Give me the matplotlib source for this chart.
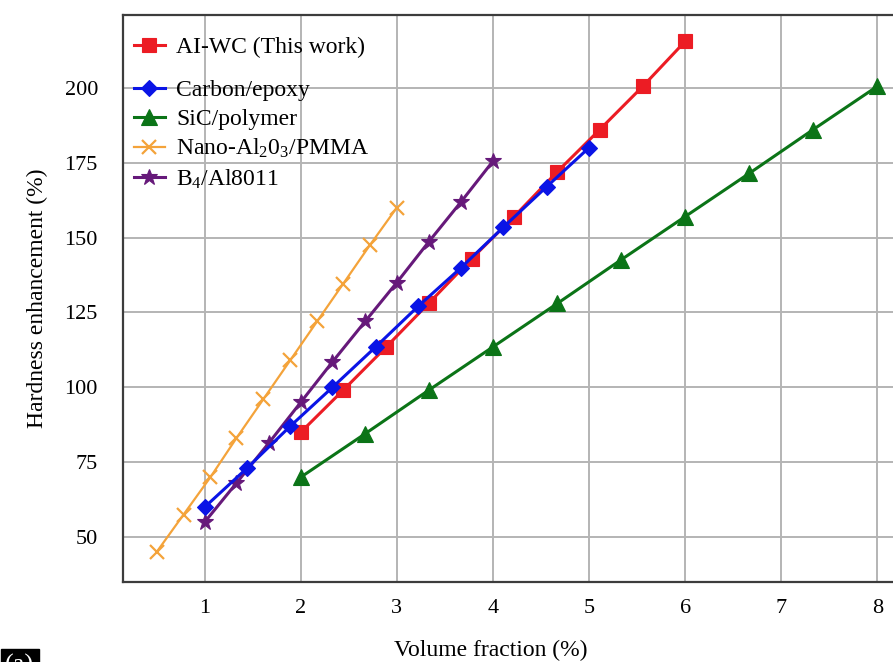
import matplotlib
matplotlib.use("Agg")
import matplotlib.pyplot as plt

plt.rcParams['font.family'] = ['Liberation Serif', 'DejaVu Serif']
plt.rcParams['mathtext.fontset'] = 'custom'
plt.rcParams['mathtext.rm'] = 'Liberation Serif'
plt.rcParams['mathtext.it'] = 'Liberation Serif'

# data
alwc_x = [2, 2.44, 2.89, 3.33, 3.78, 4.22, 4.67, 5.11, 5.56, 6]
alwc_y = [85, 99, 113.5, 128, 143, 157, 172, 186, 200.5, 215.5]

carbon_x = [1, 1.44, 1.89, 2.33, 2.78, 3.22, 3.67, 4.11, 4.56, 5]
carbon_y = [60, 73, 87, 100, 113.5, 127, 140, 153.5, 167, 180]

sic_x = [2, 2.67, 3.33, 4, 4.67, 5.33, 6, 6.67, 7.33, 8]
sic_y = [70, 84.5, 99, 113.5, 128, 142.5, 157, 171.5, 186, 200.5]

nano_x = [0.5, 0.78, 1.06, 1.33, 1.61, 1.89, 2.17, 2.44, 2.72, 3.0]
nano_y = [45, 57.5, 70, 83, 96, 109, 122, 134.5, 147.5, 160]

b4_x = [1, 1.33, 1.67, 2, 2.33, 2.67, 3, 3.33, 3.67, 4]
b4_y = [55, 68, 81.5, 95, 108.5, 122, 135, 148.5, 162, 175.5]

x_ticks = [1, 2, 3, 4, 5, 6, 7, 8]
y_ticks = [50, 75, 100, 125, 150, 175, 200]

c_red = '#ec1c24'
c_blue = '#0a14e6'
c_green = '#0b7417'
c_orange = '#f4a33a'
c_purple = '#66197a'

fig = plt.figure(figsize=(8.93, 6.62), dpi=100)
ax = fig.add_axes([0.1377, 0.1208, 0.877, 0.8565])

series = [
    (nano_x, nano_y, c_orange, 'x', 10, 1.6, 'Nano-Al$_2$0$_3$/PMMA'),
    (b4_x, b4_y, c_purple, '*', 12, 2.2, 'B$_4$/Al8011'),
    (sic_x, sic_y, c_green, '^', 11, 2.2, 'SiC/polymer'),
    (alwc_x, alwc_y, c_red, 's', 10, 2.2, 'AI-WC (This work)'),
    (carbon_x, carbon_y, c_blue, 'D', 8.5, 2.2, 'Carbon/epoxy'),
]
handles = {}
for xs, ys, col, mk, ms, lw, lab in series:
    ln, = ax.plot(xs, ys, color=col, marker=mk, markersize=ms, lw=lw,
                  markeredgewidth=1.6 if mk == 'x' else 0.8, label=lab,
                  zorder=3)
    handles[lab] = ln

ax.set_xlim(0.15, 8.3)
ax.set_ylim(35, 224.3)
ax.set_xticks(x_ticks)
ax.set_yticks(y_ticks)
ax.tick_params(length=0, labelsize=16)
ax.tick_params(axis='x', pad=12)
ax.tick_params(axis='y', pad=18)
ax.grid(True, color='#b4b4b4', lw=1.4)
ax.set_axisbelow(True)
for s in ax.spines.values():
    s.set_color('#3c3c3c')
    s.set_linewidth(1.6)

ax.set_ylabel('Hardness enhancement (%)', fontsize=17, labelpad=12)
fig.text(0.549, 0.018, 'Volume fraction (%)', fontsize=17, ha='center', va='center')

first = ['AI-WC (This work)']
rest = ['Carbon/epoxy', 'SiC/polymer', 'Nano-Al$_2$0$_3$/PMMA', 'B$_4$/Al8011']
leg_kw = dict(frameon=False, fontsize=17, handlelength=1.3, handletextpad=0.5,
              borderpad=0, borderaxespad=0, labelspacing=0.3, loc='upper left')
leg1 = ax.legend([handles[k] for k in first], first,
                 bbox_to_anchor=(0.014, 0.962), **leg_kw)
ax.add_artist(leg1)
ax.legend([handles[k] for k in rest], rest,
          bbox_to_anchor=(0.014, 0.886), **leg_kw)

fig.text(0.006, -0.022, '(a)', color='white', fontsize=19, ha='left', va='bottom',
         bbox=dict(facecolor='black', edgecolor='black', pad=3))

fig.savefig('out.png', dpi=100)
